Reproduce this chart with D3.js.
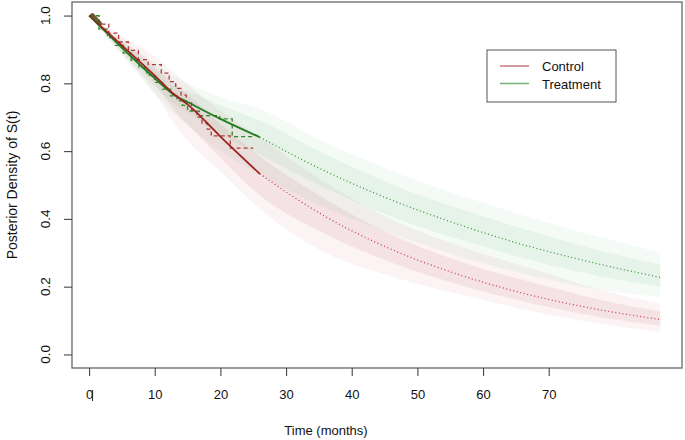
<!DOCTYPE html>
<html>
<head>
<meta charset="utf-8">
<script src="https://cdn.jsdelivr.net/npm/d3@7"></script>
<style>
  body { margin: 0; background: #fff; }
  svg { font-family: "Liberation Sans", Arial, sans-serif; }
</style>
</head>
<body>
<div id="chart"></div>
<script>
// time grid (months) used for the posterior fans
const fanT = [0, 5, 10, 13, 16, 20, 26, 35, 47, 58, 68, 78, 87];

// control fan: outer and inner envelopes
const ctrlOuterLo = [1.0, 0.89, 0.77, 0.68, 0.61, 0.54, 0.43, 0.31, 0.225, 0.17, 0.125, 0.09, 0.067];
const ctrlOuterHi = [1.0, 0.94, 0.88, 0.83, 0.78, 0.72, 0.64, 0.52, 0.39, 0.31, 0.25, 0.19, 0.15];
const ctrlInnerLo = [1.0, 0.90, 0.80, 0.72, 0.66, 0.58, 0.47, 0.365, 0.265, 0.197, 0.148, 0.11, 0.085];
const ctrlInnerHi = [1.0, 0.925, 0.85, 0.80, 0.75, 0.68, 0.585, 0.47, 0.345, 0.265, 0.21, 0.16, 0.127];

// treatment fan
const trtOuterLo = [1.0, 0.88, 0.77, 0.71, 0.66, 0.60, 0.53, 0.44, 0.35, 0.28, 0.23, 0.19, 0.17];
const trtOuterHi = [1.0, 0.93, 0.86, 0.82, 0.79, 0.76, 0.725, 0.635, 0.535, 0.46, 0.40, 0.345, 0.30];
const trtInnerLo = [1.0, 0.89, 0.79, 0.74, 0.70, 0.65, 0.59, 0.50, 0.40, 0.33, 0.275, 0.23, 0.20];
const trtInnerHi = [1.0, 0.92, 0.84, 0.79, 0.77, 0.735, 0.69, 0.60, 0.495, 0.42, 0.36, 0.305, 0.265];

// posterior median, observed period (solid)
const obsT = [0, 5, 10, 13, 15, 20, 26];
const ctrlObs = [1.0, 0.912, 0.823, 0.767, 0.738, 0.643, 0.533];
const trtObs = [1.0, 0.905, 0.815, 0.765, 0.745, 0.695, 0.641];

// posterior median, extrapolated (dotted)
const extT = [26, 35, 45, 55, 65, 75, 87];
const ctrlExt = [0.533, 0.418, 0.319, 0.244, 0.186, 0.142, 0.103];
const trtExt = [0.641, 0.550, 0.464, 0.392, 0.330, 0.279, 0.227];

// Kaplan-Meier steps (dashed)
const kmCtrlT = [0, 1.5, 3, 4.5, 6, 7.5, 9, 11, 12.2, 13.2, 14, 14.8, 15.6, 16.4, 17.2, 18, 18.6, 21.5, 25];
const kmCtrlS = [1.0, 0.975, 0.948, 0.922, 0.897, 0.87, 0.855, 0.83, 0.805, 0.785, 0.765, 0.742, 0.72, 0.70, 0.682, 0.665, 0.645, 0.609, 0.609];
const kmTrtT = [0, 1.5, 2.8, 4, 5.2, 6.4, 7.6, 8.8, 10, 11.2, 12.4, 13.4, 14.2, 15, 16.8, 19.9, 21.8, 25];
const kmTrtS = [1.0, 0.96, 0.935, 0.912, 0.889, 0.868, 0.846, 0.824, 0.803, 0.783, 0.763, 0.748, 0.735, 0.718, 0.705, 0.695, 0.643, 0.643];

// dense overlap of draws right at the start
const startT = [0.5, 1.6];
const startS = [1.0, 0.976];

const xTicks = [0, 10, 20, 30, 40, 50, 60, 70];
const yTicks = [0, 0.2, 0.4, 0.6, 0.8, 1.0];
const groups = ['Control', 'Treatment'];

const width = 685, height = 440;
const box = { left: 72, right: 682, top: 2, bottom: 368 };

const svg = d3.select('#chart').append('svg')
    .attr('width', width)
    .attr('height', height);

const x = d3.scaleLinear().domain([-2.6, 90.3]).range([box.left, box.right]);
const y = d3.scaleLinear().domain([-0.04, 1.04]).range([box.bottom, box.top]);

const zip = (a, b) => a.map((v, i) => [v, b[i]]);

const line = d3.line()
    .x(d => x(d[0]))
    .y(d => y(d[1]))
    .curve(d3.curveMonotoneX);

const stepLine = d3.line()
    .x(d => x(d[0]))
    .y(d => y(d[1]))
    .curve(d3.curveStepAfter);

const band = d3.area()
    .x(d => x(d.t))
    .y0(d => y(d.lo))
    .y1(d => y(d.hi))
    .curve(d3.curveMonotoneX);

const bandData = (lo, hi) => fanT.map((t, i) => ({ t, lo: lo[i], hi: hi[i] }));

const plot = svg.append('g');

// fans
const fans = [
    { lo: ctrlOuterLo, hi: ctrlOuterHi, color: 'rgb(185,45,65)', op: 0.06 },
    { lo: ctrlInnerLo, hi: ctrlInnerHi, color: 'rgb(185,45,65)', op: 0.085 },
    { lo: trtOuterLo, hi: trtOuterHi, color: 'rgb(70,165,80)', op: 0.06 },
    { lo: trtInnerLo, hi: trtInnerHi, color: 'rgb(70,165,80)', op: 0.075 }
];
plot.selectAll('.fan')
    .data(fans)
    .enter().append('path')
    .attr('class', 'fan')
    .attr('d', d => band(bandData(d.lo, d.hi)))
    .attr('fill', d => d.color)
    .attr('fill-opacity', d => d.op)
    .attr('stroke', 'none');

// KM dashed steps
plot.append('path')
    .attr('d', stepLine(zip(kmCtrlT, kmCtrlS)))
    .attr('fill', 'none')
    .attr('stroke', '#b03a3a')
    .attr('stroke-width', 1.3)
    .attr('stroke-dasharray', '4,3');
plot.append('path')
    .attr('d', stepLine(zip(kmTrtT, kmTrtS)))
    .attr('fill', 'none')
    .attr('stroke', '#2f8a2f')
    .attr('stroke-width', 1.3)
    .attr('stroke-dasharray', '4,3');

// extrapolated medians
plot.append('path')
    .attr('d', line(zip(extT, ctrlExt)))
    .attr('fill', 'none')
    .attr('stroke', '#c8404a')
    .attr('stroke-width', 1.3)
    .attr('stroke-dasharray', '1,2.6');
plot.append('path')
    .attr('d', line(zip(extT, trtExt)))
    .attr('fill', 'none')
    .attr('stroke', '#3c963c')
    .attr('stroke-width', 1.3)
    .attr('stroke-dasharray', '1,2.6');

// observed medians
plot.append('path')
    .attr('d', line(zip(obsT, trtObs)))
    .attr('fill', 'none')
    .attr('stroke', '#227a22')
    .attr('stroke-width', 1.8);
plot.append('path')
    .attr('d', line(zip(obsT, ctrlObs)))
    .attr('fill', 'none')
    .attr('stroke', '#a02020')
    .attr('stroke-width', 1.8);

plot.append('path')
    .attr('d', line(zip(startT, startS)))
    .attr('fill', 'none')
    .attr('stroke', '#5e4a22')
    .attr('stroke-width', 5)
    .attr('stroke-linecap', 'round')
    .attr('stroke-opacity', 0.9);

// frame
svg.append('rect')
    .attr('x', box.left)
    .attr('y', box.top)
    .attr('width', box.right - box.left)
    .attr('height', box.bottom - box.top)
    .attr('fill', 'none')
    .attr('stroke', '#666')
    .attr('stroke-width', 1.3);

// x axis
const xAxis = svg.append('g')
    .attr('transform', `translate(0,${box.bottom})`)
    .call(d3.axisBottom(x).tickValues(xTicks).tickSize(8).tickPadding(14).tickFormat(d3.format('d')));
xAxis.select('.domain').remove();
xAxis.selectAll('line').attr('stroke', '#444').attr('stroke-width', 1.1);
xAxis.selectAll('text')
    .attr('fill', '#111')
    .style('font-size', '13px')
    .style('font-family', '"Liberation Sans", Arial, sans-serif');

// small mark right of the 0 label
svg.append('line')
    .attr('x1', x(0) + 3.5).attr('x2', x(0) + 3.5)
    .attr('y1', 390).attr('y2', 401)
    .attr('stroke', '#222')
    .attr('stroke-width', 1);

// y axis
const yAxis = svg.append('g')
    .attr('transform', `translate(${box.left},0)`)
    .call(d3.axisLeft(y).tickValues(yTicks).tickSize(8).tickFormat(''));
yAxis.select('.domain').remove();
yAxis.selectAll('line').attr('stroke', '#444').attr('stroke-width', 1.1);

svg.selectAll('.ylab')
    .data(yTicks)
    .enter().append('text')
    .attr('class', 'ylab')
    .attr('transform', d => `translate(50,${y(d)}) rotate(-90)`)
    .attr('text-anchor', 'middle')
    .attr('fill', '#111')
    .style('font-size', '13.5px')
    .text(d3.format('.1f'));

svg.append('text')
    .attr('transform', `translate(17,${(box.top + box.bottom) / 2}) rotate(-90)`)
    .attr('text-anchor', 'middle')
    .attr('fill', '#111')
    .style('font-size', '14px')
    .text('Posterior Density of S(t)');

svg.append('text')
    .attr('x', 326)
    .attr('y', 435)
    .attr('text-anchor', 'middle')
    .attr('fill', '#111')
    .style('font-size', '13px')
    .text('Time (months)');

// legend
const legend = svg.append('g').attr('transform', 'translate(487,50)');
legend.append('rect')
    .attr('width', 129)
    .attr('height', 52)
    .attr('fill', '#fff')
    .attr('stroke', '#555')
    .attr('stroke-width', 1);
const legendColors = ['#c87878', '#78b078'];
const item = legend.selectAll('.item')
    .data(groups)
    .enter().append('g')
    .attr('class', 'item')
    .attr('transform', (d, i) => `translate(0,${16 + i * 17.5})`);
item.append('line')
    .attr('x1', 13).attr('x2', 42)
    .attr('stroke', (d, i) => legendColors[i])
    .attr('stroke-width', 1.5);
item.append('text')
    .attr('x', 55)
    .attr('y', 5)
    .attr('fill', '#111')
    .style('font-size', '13px')
    .text(d => d);
</script>
</body>
</html>
